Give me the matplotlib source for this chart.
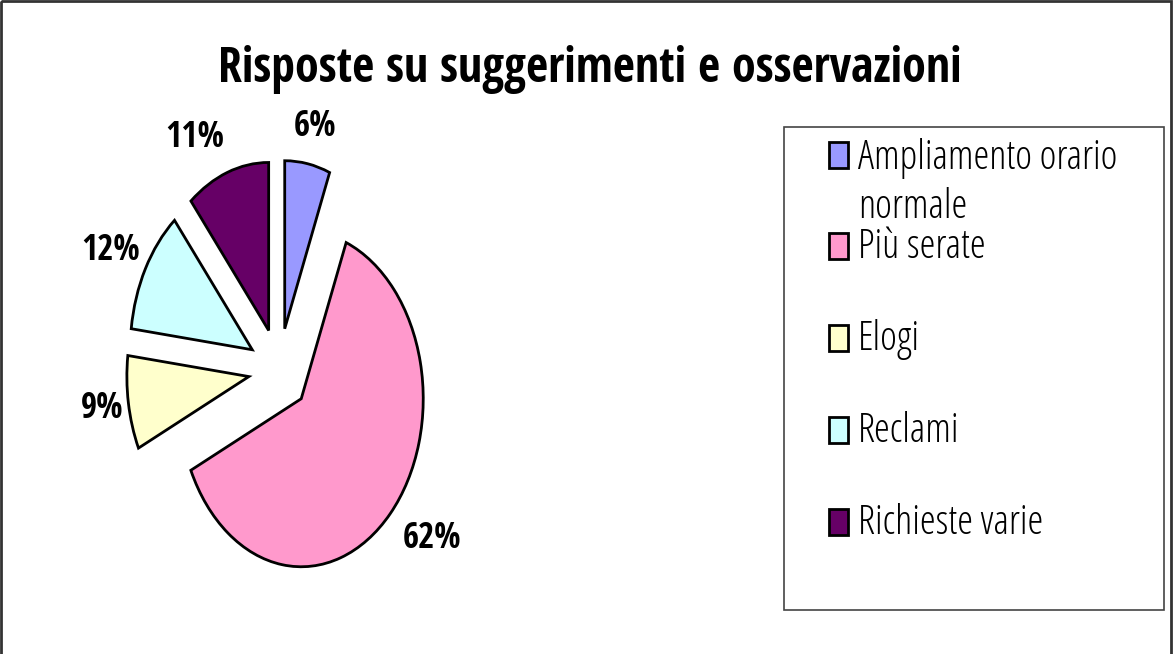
import matplotlib
matplotlib.use("Agg")
import matplotlib.pyplot as plt
from matplotlib.patches import Rectangle
from matplotlib.font_manager import FontProperties

# dati
categorie = ["Ampliamento orario\nnormale", "Più serate", "Elogi", "Reclami", "Richieste varie"]
valori = [6, 62, 9, 12, 11]
colori = ["#9999FF", "#FF99CC", "#FFFFCC", "#CCFFFF", "#660066"]
titolo = "Risposte su suggerimenti e osservazioni"

W, H = 1174, 654
f_titolo = FontProperties(family="Open Sans Condensed", weight="bold", size=34.5)
f_perc = FontProperties(family="Open Sans Condensed", weight="bold", size=25)
f_leg = FontProperties(family="Open Sans", stretch="condensed", weight=300, size=29)

fig = plt.figure(figsize=(W / 100, H / 100), dpi=100)
fig.patch.set_facecolor("white")

# pie axes: centre (279, 370) px, rx 122, ry 168
cx, cy, rx, ry = 279, 370, 122, 168
xl, yl = 2.0, 1.6
ax = fig.add_axes([(cx - xl * rx) / W, (H - cy - yl * ry) / H, 2 * xl * rx / W, 2 * yl * ry / H])
wedges, testi, autotesti = ax.pie(valori, explode=[0.25] * len(valori), colors=colori,
                                  startangle=90, counterclock=False,
                                  wedgeprops=dict(edgecolor="black", linewidth=2),
                                  autopct=lambda p: "%.0f%%" % p, pctdistance=1.22)
ax.set_aspect("auto")
ax.set_xlim(-xl, xl)
ax.set_ylim(-yl, yl)
ax.axis("off")

# piccoli spostamenti delle etichette
spost = [0.02, 0.18, 0.0, -0.09, -0.19]
for t, dx in zip(autotesti, spost):
    x, y = t.get_position()
    t.set_position((x + dx, y))
    t.set_fontproperties(f_perc)

# overlay in pixel
ov = fig.add_axes([0, 0, 1, 1], zorder=-1)
ov.set_xlim(0, W)
ov.set_ylim(H, 0)
ov.axis("off")
ov.add_patch(Rectangle((1, 1), W - 4, H + 10, fill=False, edgecolor="#333333", linewidth=2, clip_on=False))
ov.text(590, 82, titolo, ha="center", va="baseline", fontproperties=f_titolo)

# legenda
ov.add_patch(Rectangle((784, 127), 380, 483, fill=False, edgecolor="#444444", linewidth=1.2))
y0, passo = 166, 92
riga = 51
for i, (lab, col) in enumerate(zip(categorie, colori)):
    yb = y0 + passo * i if i > 0 else 167
    n = lab.count("\n")
    ov.add_patch(Rectangle((829, yb - 25), 19, 26, facecolor=col, edgecolor="black", linewidth=2))
    ov.text(858, yb + n * riga, lab, ha="left", va="baseline", fontproperties=f_leg, linespacing=1.25)

fig.savefig("out.png", dpi=100)
